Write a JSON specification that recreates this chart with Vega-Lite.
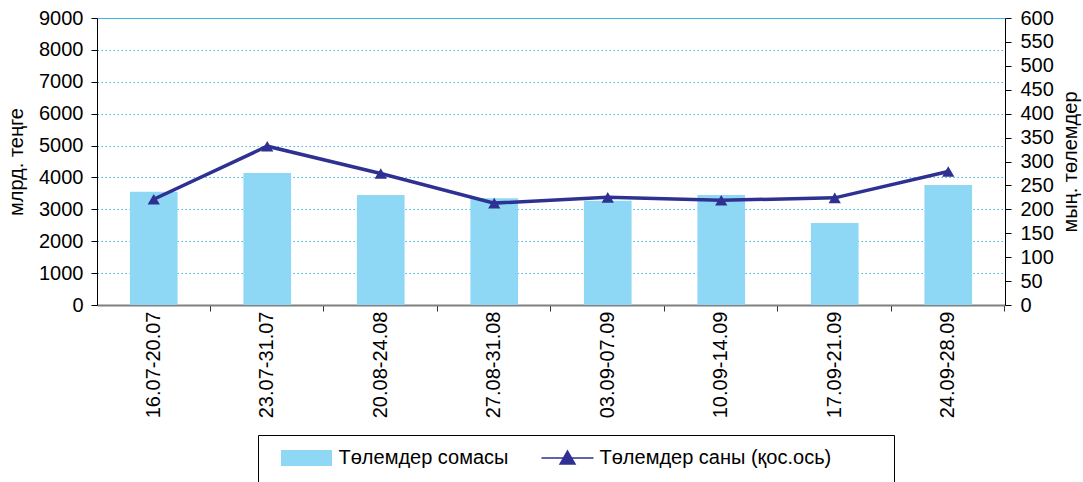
{
  "$schema": "https://vega.github.io/schema/vega-lite/v6.json",
  "width": 908,
  "height": 287,
  "autosize": {"type": "none"},
  "padding": {"left": 97, "top": 18, "right": 78, "bottom": 177},
  "config": {
    "font": "Liberation Sans",
    "view": {"stroke": null},
    "axis": {
      "labelFont": "Liberation Sans",
      "titleFont": "Liberation Sans",
      "labelColor": "#000",
      "titleColor": "#000",
      "labelFontSize": 20,
      "titleFontSize": 20,
      "titleFontWeight": "normal",
      "tickColor": "#000",
      "domainColor": "#000"
    },
    "legend": {"labelFont": "Liberation Sans", "titleFont": "Liberation Sans"}
  },
  "data": {
    "values": [
      {"period": "16.07-20.07", "sum": 3550, "count": 221},
      {"period": "23.07-31.07", "sum": 4140, "count": 332},
      {"period": "20.08-24.08", "sum": 3450, "count": 275},
      {"period": "27.08-31.08", "sum": 3345, "count": 213},
      {"period": "03.09-07.09", "sum": 3270, "count": 225},
      {"period": "10.09-14.09", "sum": 3450, "count": 219},
      {"period": "17.09-21.09", "sum": 2570, "count": 224},
      {"period": "24.09-28.09", "sum": 3760, "count": 279}
    ]
  },
  "layer": [
    {
      "mark": {"type": "bar"},
      "encoding": {
        "x": {
          "field": "period",
          "type": "nominal",
          "sort": null,
          "scale": {"paddingInner": 0.58, "paddingOuter": 0.29},
          "axis": {
            "title": null,
            "labelAngle": -90,
            "bandPosition": 1.689,
            "tickSize": 6,
            "labelPadding": 0,
            "domainColor": "#808080",
            "domainWidth": 2,
            "tickColor": "#333"
          }
        },
        "y": {
          "field": "sum",
          "type": "quantitative",
          "scale": {"domain": [0, 9000], "nice": false},
          "axis": {
            "title": "млрд. теңге",
            "values": [0, 1000, 2000, 3000, 4000, 5000, 6000, 7000, 8000, 9000],
            "format": "d",
            "grid": true,
            "gridColor": "#3db5e6",
            "gridWidth": 1.2,
            "gridDash": {"condition": {"test": "datum.value === 9000", "value": [1, 0]}, "value": [1.5, 2.5]},
            "tickSize": 6,
            "labelPadding": 8,
            "titlePadding": 12
          }
        },
        "color": {
          "datum": "Төлемдер сомасы",
          "scale": {
            "domain": ["Төлемдер сомасы", "Төлемдер саны (қос.ось)"],
            "range": ["#8fd8f5", "#2e3192"]
          },
          "legend": {
            "orient": "none",
            "legendX": 161,
            "legendY": 417,
            "direction": "horizontal",
            "title": " ",
            "titleOrient": "right",
            "titleFontSize": 40,
            "titlePadding": 50,
            "strokeColor": "#000",
            "padding": 13,
            "symbolSize": 400,
            "symbolOffset": 25.5,
            "labelOffset": 22,
            "labelFontSize": 20,
            "labelLimit": 0,
            "labelColor": "#000",
            "columnPadding": 23,
            "encode": {
              "symbols": {
                "update": {
                  "shape": {"signal": "datum.value === 'Төлемдер сомасы' ? 'M-2.55,-0.8H2.55V0.8H-2.55Z' : 'M-2.6,0H2.6M-0.75,0.6L0,-0.7L0.75,0.6Z'"},
                  "fill": {"signal": "datum.value === 'Төлемдер сомасы' ? '#8fd8f5' : '#2e3192'"},
                  "stroke": {"signal": "datum.value === 'Төлемдер сомасы' ? '#8fd8f5' : '#2e3192'"},
                  "strokeWidth": {"signal": "datum.value === 'Төлемдер сомасы' ? 0 : 1.5"},
                  "opacity": {"value": 1}
                }
              }
            }
          }
        }
      }
    },
    {
      "mark": {"type": "line", "strokeWidth": 3.5, "point": {"shape": "triangle-up", "size": 150, "filled": true}},
      "encoding": {
        "x": {"field": "period", "type": "nominal", "sort": null},
        "y": {
          "field": "count",
          "type": "quantitative",
          "scale": {"domain": [0, 600], "nice": false},
          "axis": {
            "orient": "right",
            "title": "мың. төлемдер",
            "values": [0, 50, 100, 150, 200, 250, 300, 350, 400, 450, 500, 550, 600],
            "grid": false,
            "tickSize": 6,
            "labelPadding": 9,
            "titlePadding": 7,
            "titleAngle": 270,
            "titleBaseline": "top"
          }
        },
        "color": {"datum": "Төлемдер саны (қос.ось)"}
      }
    }
  ],
  "resolve": {"scale": {"y": "independent"}}
}
